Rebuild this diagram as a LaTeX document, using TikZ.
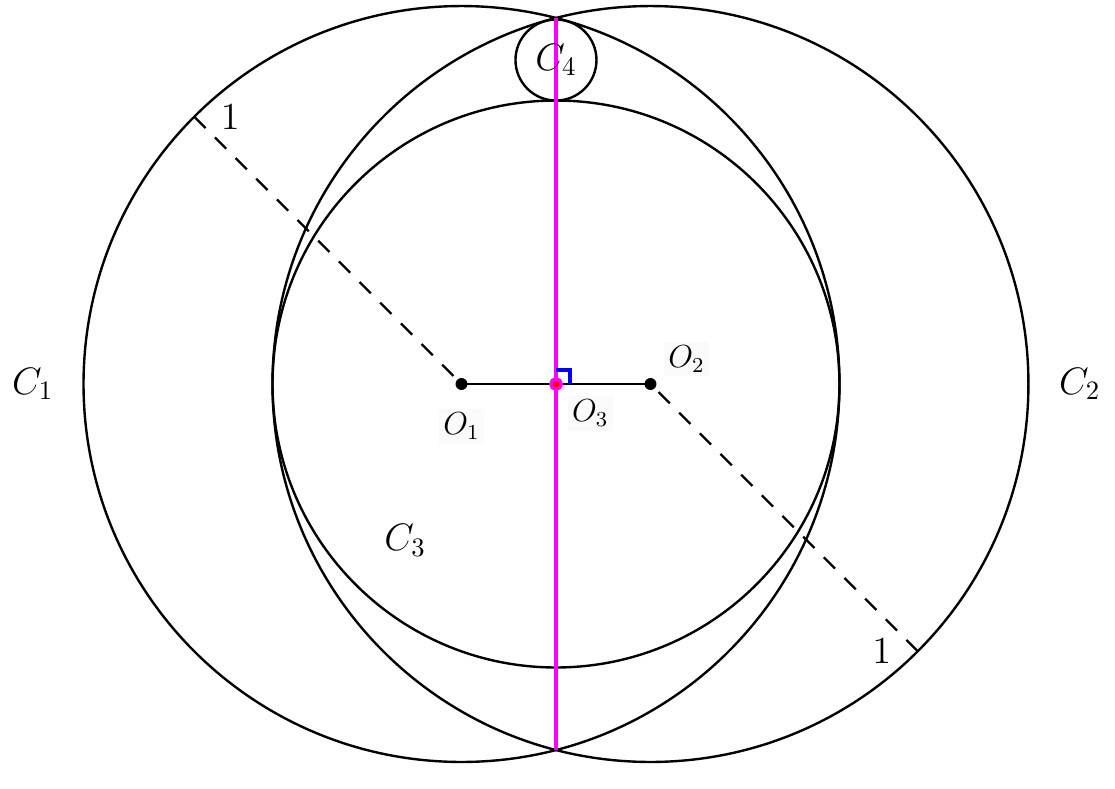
\documentclass[tikz,border=0pt]{standalone}
\usepackage{amsmath}
\usepackage{amssymb}
\usetikzlibrary{positioning,calc}
\definecolor{brightmagenta}{RGB}{255,0,255}

\begin{document}
\begin{tikzpicture}[x=5cm, y=5cm, line width=0.9pt,
   circ/.style={line width=0.9pt},
   radius line/.style={dashed, dash pattern=on 6pt off 5pt},
   centre/.style={circle, fill=black, inner sep=0pt, minimum size=4.5pt},
   clabel/.style={font=\Large},
   olabel/.style={font=\large, fill=gray!4, inner sep=1.5pt}]
\useasboundingbox (-1.471,-1.069) rectangle (1.479,1.016);
\coordinate (O1) at (-0.25,0);
\coordinate (O2) at (0.25,0);
\coordinate (O3) at (0,0);
\coordinate (O4) at (0,0.8571);
\coordinate (top) at (0,0.9682);
\coordinate (bot) at (0,-0.9682);
\coordinate (R1) at ($(O1)+(135:1)$);
\coordinate (R2) at ($(O2)+(-45:1)$);
\draw[circ] (O1) circle (1);
\draw[circ] (O2) circle (1);
\draw[circ] (O3) circle (0.75);
\draw[circ] (O4) circle (0.10714);
\draw[radius line] (R1) -- (O1);
\draw[radius line] (R2) -- (O2);
\draw (O1) -- (O2);
\draw[brightmagenta, line width=1.6pt] (top) -- (bot);
\draw[blue, line width=1.2pt] (O3) ++(0,0.037) -| ++(0.037,-0.037);
\node[centre] (o1) at (O1) {};
\node[centre] (o2) at (O2) {};
\node[circle, fill=red, draw=brightmagenta, line width=1.2pt, inner sep=0pt, minimum size=4pt] (o3) at (O3) {};
\node[clabel] (c1) at (-1.384,0) {$C_1$};
\node[clabel] (c2) at (1.386,0) {$C_2$};
\node[clabel] (c3) at (-0.399,-0.413) {$C_3$};
\node[clabel] (c4) at (O4) {$C_4$};
\node[clabel, right=0.22cm of R1] (r1) {$1$};
\node[clabel, left=0.22cm of R2] (r2) {$1$};
\node[olabel, below=0.22cm of o1] (l1) {$O_1$};
\node[olabel, above right=0.02cm and 0.1cm of o2] (l2) {$O_2$};
\node[olabel, below right=0.08cm and 0.08cm of o3] (l3) {$O_3$};
\end{tikzpicture}
\end{document}
